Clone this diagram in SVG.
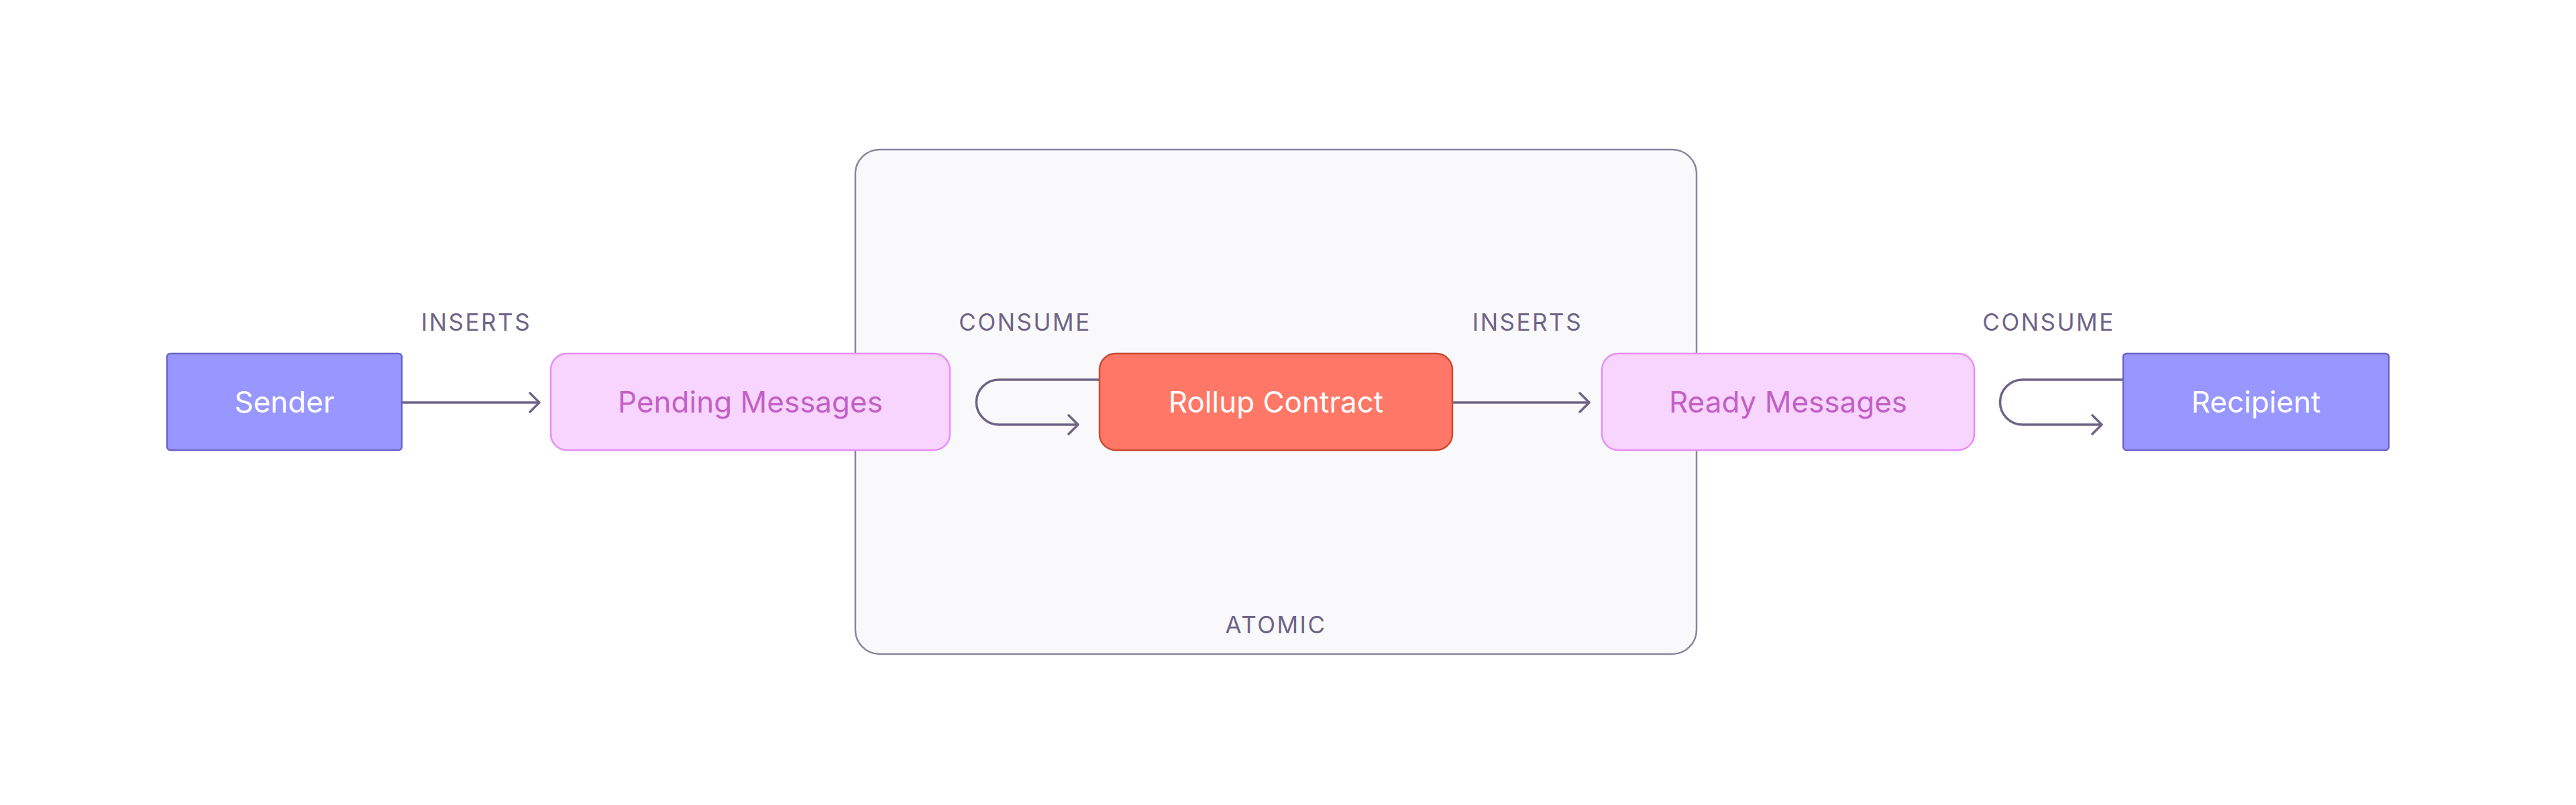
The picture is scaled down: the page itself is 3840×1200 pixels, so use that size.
<svg xmlns="http://www.w3.org/2000/svg" width="3840" height="1200" viewBox="0 0 3840 1200">
  <style>
    .lbl { font-family: Inter, "Noto Sans", "Liberation Sans", sans-serif; font-size: 35px; fill: #6e6487; letter-spacing: 2.5px; text-anchor: middle; }
    .ntxt { font-family: Inter, "Noto Sans", "Liberation Sans", sans-serif; font-size: 44px; text-anchor: middle; dominant-baseline: central; }
    .actor rect { fill: #9896ff; stroke: #6b63c8; stroke-width: 2.5; }
    .actor text { fill: #ffffff; }
    .queue rect { fill: #f7d5fe; stroke: #e88cf9; stroke-width: 2.5; }
    .queue text { fill: #c45fc7; }
    .contract rect { fill: #ff7766; stroke: #c94a33; stroke-width: 2.5; }
    .contract text { fill: #ffffff; }
    .conn { fill: none; stroke: #6e6487; stroke-width: 3.5; }
  </style>
  <defs>
    <marker id="arrow" viewBox="0 0 20 32" refX="17" refY="16" markerWidth="20" markerHeight="32" markerUnits="userSpaceOnUse" orient="auto">
      <path d="M3,2 L17,16 L3,30" fill="none" stroke="#6e6487" stroke-width="3.5" stroke-linecap="round" stroke-linejoin="round"/>
    </marker>
  </defs>
  <rect width="3840" height="1200" fill="#ffffff"/>

  <g id="atomic">
    <rect x="1275" y="223" width="1254" height="752" rx="36" fill="#f9f9fb" stroke="#8c849f" stroke-width="2.5"/>
    <text class="lbl" x="1902" y="944">ATOMIC</text>
  </g>

  <g id="connectors">
    <path class="conn" d="M599,600 H804" marker-end="url(#arrow)"/>
    <path class="conn" d="M1639,566 H1489 A33.5,33.5 0 0 0 1489,633 H1607" marker-end="url(#arrow)"/>
    <path class="conn" d="M2165,600 H2369" marker-end="url(#arrow)"/>
    <path class="conn" d="M3165,566 H3015 A33.5,33.5 0 0 0 3015,633 H3133" marker-end="url(#arrow)"/>
    <text class="lbl" x="710" y="493">INSERTS</text>
    <text class="lbl" x="1528" y="493">CONSUME</text>
    <text class="lbl" x="2277" y="493">INSERTS</text>
    <text class="lbl" x="3054" y="493">CONSUME</text>
  </g>

  <g id="sender" class="actor">
    <rect x="249" y="527" width="350" height="144" rx="5"/>
    <text class="ntxt" x="424" y="599">Sender</text>
  </g>
  <g id="pending" class="queue">
    <rect x="821" y="527" width="595" height="144" rx="24"/>
    <text class="ntxt" x="1118.5" y="599">Pending Messages</text>
  </g>
  <g id="rollup" class="contract">
    <rect x="1639" y="527" width="526" height="144" rx="24"/>
    <text class="ntxt" x="1902" y="599">Rollup Contract</text>
  </g>
  <g id="ready" class="queue">
    <rect x="2388" y="527" width="555" height="144" rx="24"/>
    <text class="ntxt" x="2665.5" y="599">Ready Messages</text>
  </g>
  <g id="recipient" class="actor">
    <rect x="3165" y="527" width="396" height="144" rx="5"/>
    <text class="ntxt" x="3363" y="599">Recipient</text>
  </g>
</svg>
